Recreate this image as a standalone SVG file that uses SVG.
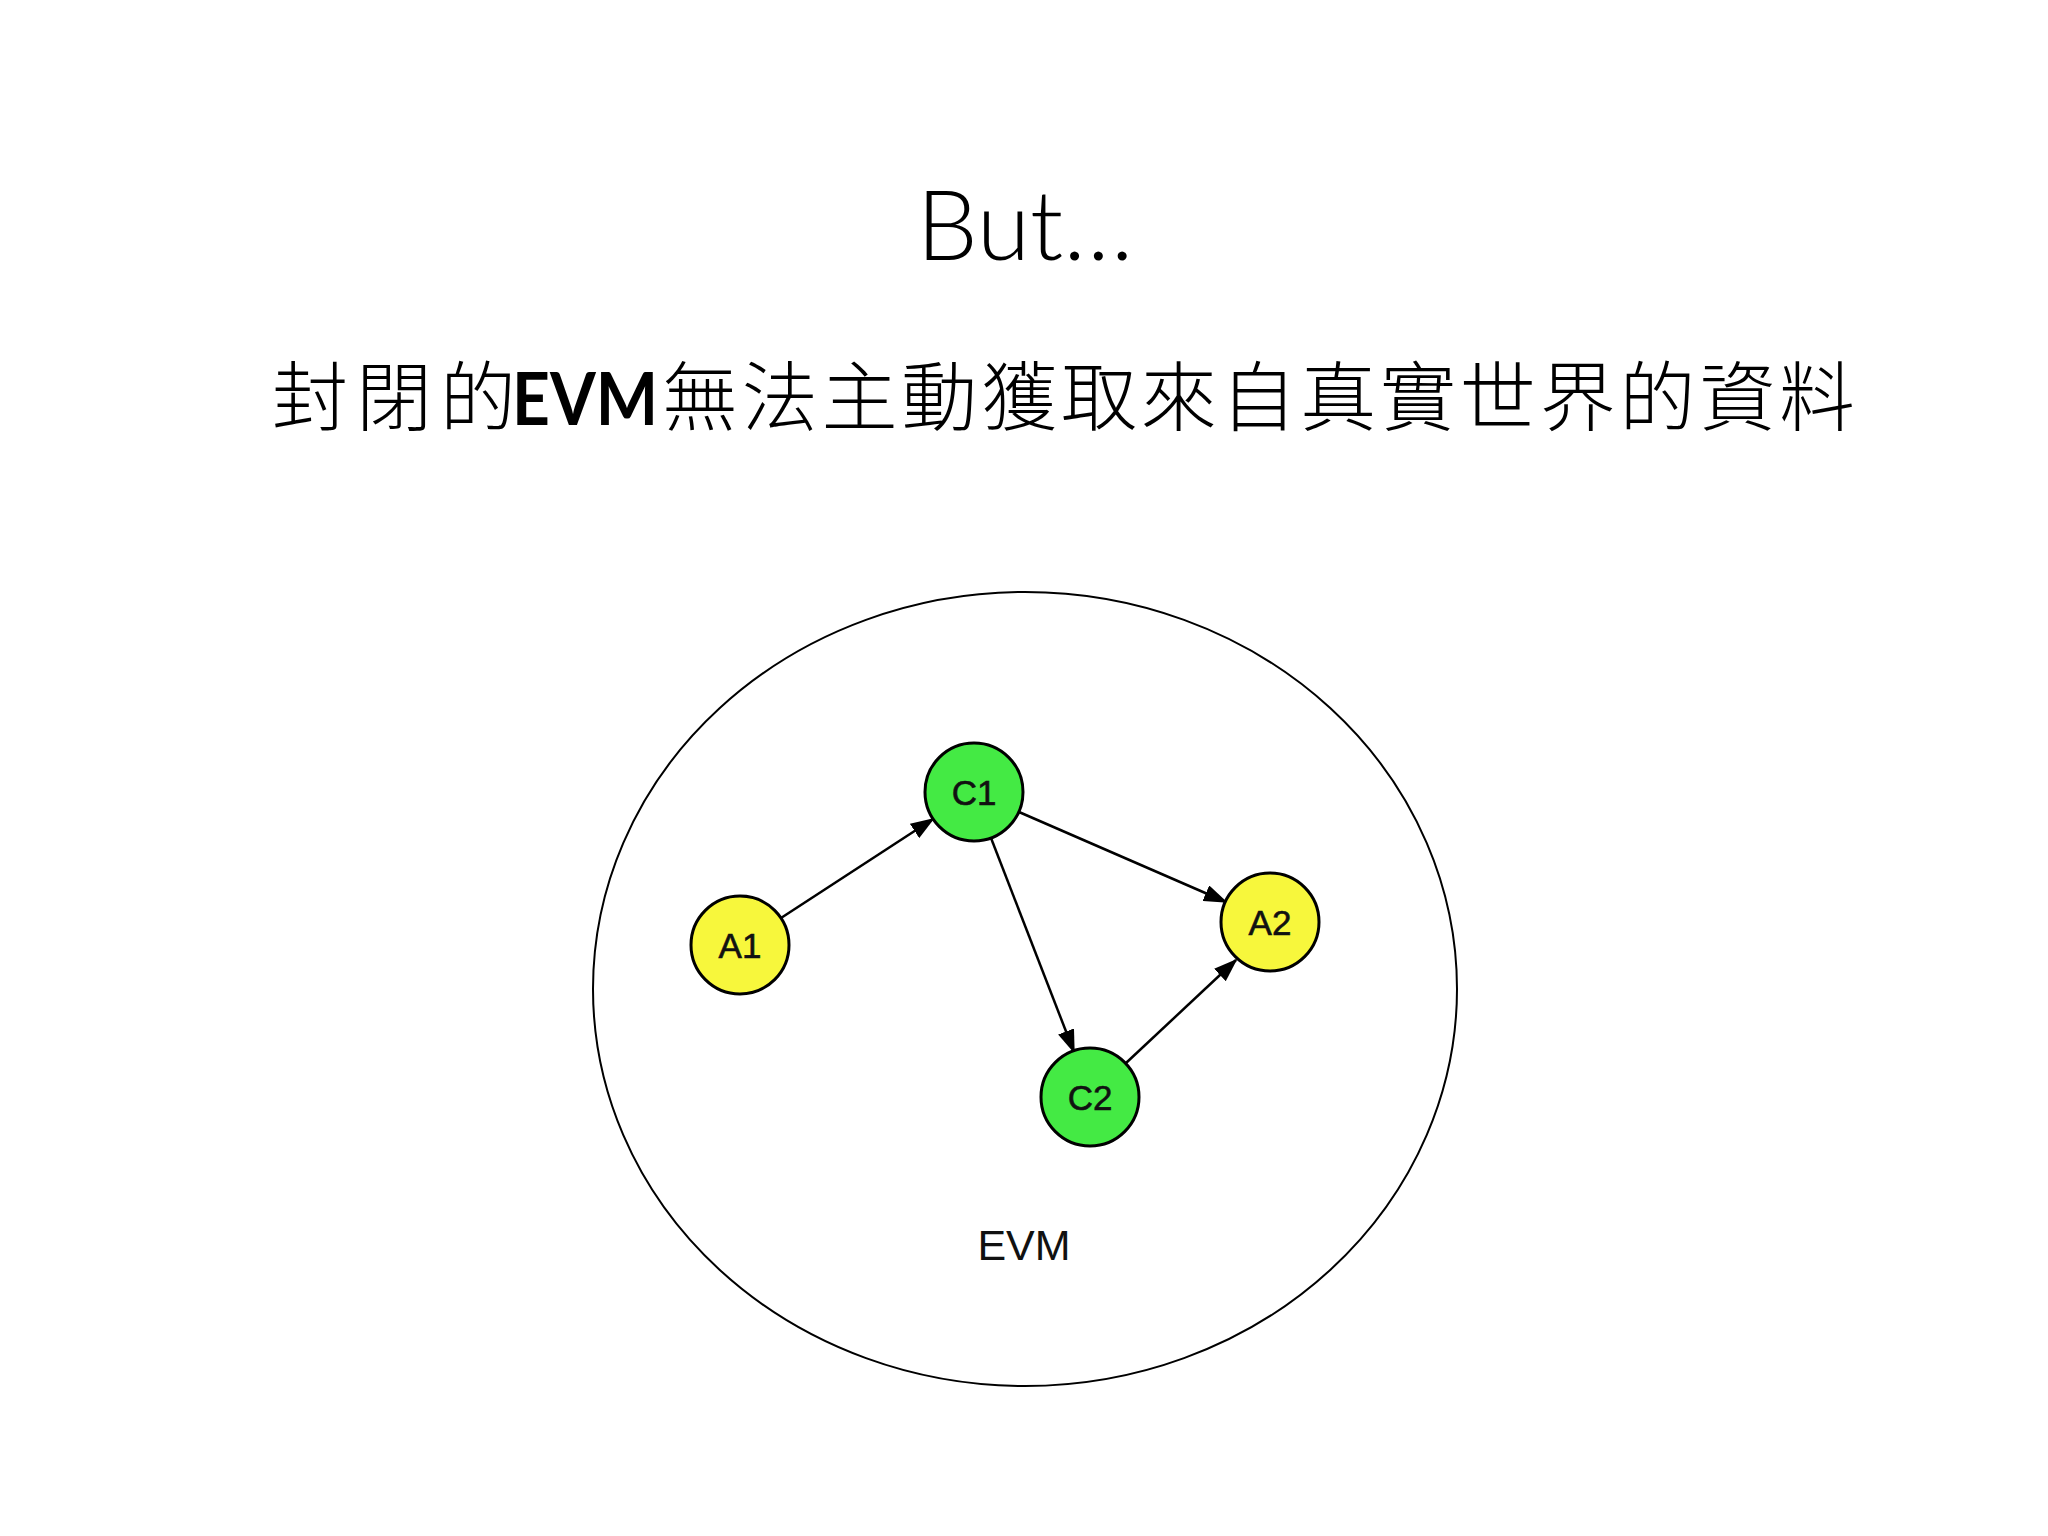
<svg xmlns="http://www.w3.org/2000/svg" width="2048" height="1536" viewBox="0 0 2048 1536">
<defs>
<style>
.node circle{stroke:#000;stroke-width:3}
.yellow circle{fill:#F7F73C}
.green circle{fill:#44EA44}
.lbl{font-family:"Liberation Sans",Arial,sans-serif;font-size:35px;fill:#111;stroke:#111;stroke-width:0.6;text-anchor:middle}
.edge{stroke:#000;stroke-width:2.5;fill:none;marker-end:url(#arr)}
</style>
<marker id="arr" viewBox="0 0 24 17" refX="22" refY="8.5" markerWidth="24" markerHeight="17" markerUnits="userSpaceOnUse" orient="auto">
<path d="M0,0 L24,8.5 L0,17 z" fill="#000"/>
</marker>
</defs>
<rect width="2048" height="1536" fill="#fff"/>
<text x="1025" y="260" font-family="Lato,'Open Sans',sans-serif" font-weight="300" font-size="97" text-anchor="middle" fill="#000">But…</text>
<text x="272" y="425" font-size="76" fill="#000" font-family="'Noto Sans CJK TC',sans-serif" font-weight="300"><tspan textLength="244" lengthAdjust="spacing">封閉的</tspan><tspan x="512" font-family="Lato,'Open Sans',sans-serif" font-weight="bold" font-size="72" textLength="146" lengthAdjust="spacingAndGlyphs">EVM</tspan><tspan x="662" textLength="1193" lengthAdjust="spacing">無法主動獲取來自真實世界的資料</tspan></text>
<g id="evm-boundary">
<ellipse cx="1025" cy="989" rx="432" ry="397" fill="none" stroke="#000" stroke-width="2"/>
<text x="1024" y="1260" font-family="'Liberation Sans',Arial,sans-serif" font-size="43" text-anchor="middle" fill="#111">EVM</text>
</g>
<g id="connectors">
<line class="edge" x1="781" y1="918" x2="933" y2="819"/>
<line class="edge" x1="1019" y1="812" x2="1226" y2="902"/>
<line class="edge" x1="991" y1="838" x2="1074" y2="1052"/>
<line class="edge" x1="1126" y1="1063" x2="1236" y2="960"/>
</g>
<g id="node-C1" class="node green"><circle cx="974" cy="792" r="49"/><text class="lbl" x="974" y="805">C1</text></g>
<g id="node-A1" class="node yellow"><circle cx="740" cy="945" r="49"/><text class="lbl" x="740" y="958">A1</text></g>
<g id="node-A2" class="node yellow"><circle cx="1270" cy="922" r="49"/><text class="lbl" x="1270" y="935">A2</text></g>
<g id="node-C2" class="node green"><circle cx="1090" cy="1097" r="49"/><text class="lbl" x="1090" y="1110">C2</text></g>
</svg>
